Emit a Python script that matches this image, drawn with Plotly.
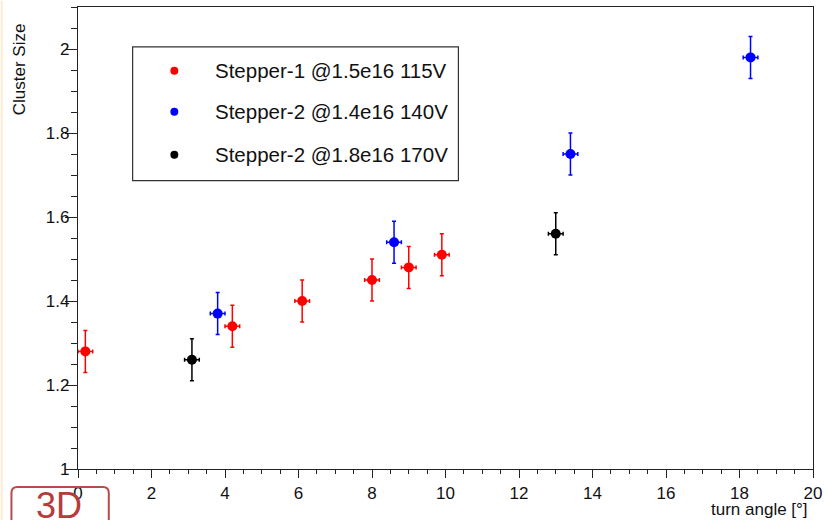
import plotly.graph_objects as go

# ---- data ----
s1_name = "Stepper-1 @1.5e16 115V"
s1_x = [0.2, 4.2, 6.1, 8.0, 9.0, 9.9]
s1_y = [1.28, 1.34, 1.40, 1.45, 1.48, 1.51]

s2_name = "Stepper-2 @1.4e16 140V"
s2_x = [3.8, 8.6, 13.4, 18.3]
s2_y = [1.37, 1.54, 1.75, 1.98]

s3_name = "Stepper-2 @1.8e16 170V"
s3_x = [3.1, 13.0]
s3_y = [1.26, 1.56]

x_err = 0.2
y_err = 0.05

# ---- layout geometry (pixels) ----
W, H = 828, 520
L, R, T, B = 78, 10, 6, 51
PW, PH = W - L - R, H - T - B


def px_x(p):
    return (p - L) / PW


def px_y(p):
    return (H - B - p) / PH


FONT = "Liberation Sans, Arial, Helvetica, sans-serif"

fig = go.Figure()
series = [(s1_name, s1_x, s1_y, "#ff0000"),
          (s2_name, s2_x, s2_y, "#0000ff"),
          (s3_name, s3_x, s3_y, "#000000")]
for name, xs, ys, col in series:
    fig.add_trace(go.Scatter(
        x=xs, y=ys, mode="markers", name=name,
        marker=dict(color=col, size=10),
        error_x=dict(type="constant", value=x_err, color=col, thickness=1.5, width=2),
        error_y=dict(type="constant", value=y_err, color=col, thickness=1.5, width=2),
        showlegend=False,
    ))

shapes = []
annotations = []

# manual legend box
shapes.append(dict(type="rect", xref="paper", yref="paper",
                   x0=px_x(133), x1=px_x(461), y0=px_y(180), y1=px_y(46),
                   line=dict(color="#333333", width=1.2), fillcolor="white", layer="above"))
leg_rows = [70, 111, 154]
for (name, xs, ys, col), ry in zip(series, leg_rows):
    r = 4
    shapes.append(dict(type="circle", xref="paper", yref="paper",
                       x0=px_x(175 - r), x1=px_x(175 + r), y0=px_y(ry + r), y1=px_y(ry - r),
                       fillcolor=col, line=dict(color=col, width=0), layer="above"))
    annotations.append(dict(text=name, xref="paper", yref="paper",
                            x=px_x(214), y=px_y(ry), xanchor="left", yanchor="middle",
                            showarrow=False, font=dict(family=FONT, size=20.5, color="#111111")))

# axis titles
annotations.append(dict(text="Cluster Size", xref="paper", yref="paper",
                        x=px_x(19), y=px_y(68), textangle=-90, xanchor="center", yanchor="middle",
                        showarrow=False, font=dict(family=FONT, size=17, color="#111111")))
annotations.append(dict(text="turn angle [°]", xref="paper", yref="paper",
                        x=px_x(815), y=px_y(510), xanchor="right", yanchor="middle",
                        showarrow=False, font=dict(family=FONT, size=17, color="#111111")))

# "3D" badge at bottom left
shapes.append(dict(type="path", xref="paper", yref="paper",
                   path="M {a},{b} L {a},{c} Q {a},{d} {e},{d} L {f},{d} Q {g},{d} {g},{c} L {g},{b}".format(
                       a=px_x(11), b=px_y(525), c=px_y(493), d=px_y(487), e=px_x(17), f=px_x(103), g=px_x(109)),
                   line=dict(color="#b84a4a", width=2)))
annotations.append(dict(text="3D", xref="paper", yref="paper",
                        x=px_x(59), y=px_y(506), xanchor="center", yanchor="middle",
                        showarrow=False, font=dict(family=FONT, size=36, color="#b33c3c")))

# pale strip on the left edge
shapes.append(dict(type="rect", xref="paper", yref="paper",
                   x0=px_x(0), x1=px_x(2.5), y0=px_y(H), y1=px_y(0),
                   fillcolor="#fcefd9", line=dict(width=0), layer="below"))

fig.update_layout(
    width=W, height=H,
    margin=dict(l=L, r=R, t=T, b=B),
    paper_bgcolor="white", plot_bgcolor="white",
    font=dict(family=FONT, size=17, color="#111111"),
    shapes=shapes, annotations=annotations,
    showlegend=False,
)
fig.update_xaxes(
    range=[0, 20], tick0=0, dtick=2, ticks="outside", ticklen=8, tickwidth=1.3,
    tickcolor="#222222", showline=True, linecolor="#222222", linewidth=1.3, mirror=True,
    showgrid=False, zeroline=False, tickfont=dict(size=17),
    minor=dict(dtick=0.5, ticks="outside", ticklen=4, tickwidth=1.1, tickcolor="#222222", showgrid=False),
)
fig.update_yaxes(
    range=[1, 2.1], tick0=1, dtick=0.2, ticks="outside", ticklen=12, tickwidth=1.3,
    tickcolor="#222222", showline=True, linecolor="#222222", linewidth=1.3, mirror=True,
    showgrid=False, zeroline=False, tickfont=dict(size=17), ticklabelstandoff=-8,
    minor=dict(dtick=0.05, ticks="outside", ticklen=6, tickwidth=1.1, tickcolor="#222222", showgrid=False),
)

fig.write_html("out.html")
